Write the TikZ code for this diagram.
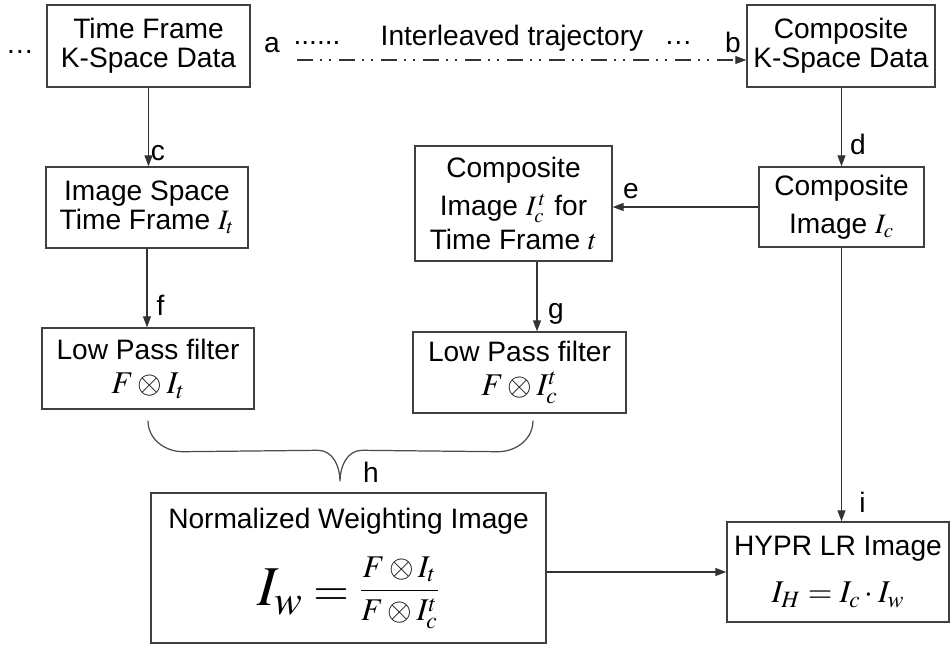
\documentclass[tikz,border=0pt]{standalone}
\usepackage{amsmath}
\usepackage{mathptmx}
\usepackage[no-math]{fontspec}
\setmainfont{Liberation Sans}
\usetikzlibrary{arrows.meta,calc}
\newcommand{\fml}{\fontsize{18}{18}\selectfont}

\begin{document}
\begin{tikzpicture}[
    font=\fontsize{16}{16.5}\selectfont,
    blk/.style={draw=black!75, line width=0.8pt, align=center, inner sep=1pt},
    lbl/.style={inner sep=0pt, anchor=base},
    arrow/.style={-{Triangle[length=2.2mm,width=1.6mm]}, draw=black!80, line width=0.7pt},
    traj/.style={arrow, dash pattern=on 0.32cm off 0.14cm on 0.04cm off 0.14cm on 0.04cm off 0.16cm},
    brace/.style={draw=black!70, line width=0.7pt}
]
\useasboundingbox (0,0) rectangle (19.02,-12.9);

% boxes
\node[blk, minimum width=4.06cm, minimum height=1.64cm] (tf) at (2.97,-0.92) {Time Frame\\K-Space Data};
\node[blk, minimum width=3.76cm, minimum height=1.64cm] (ck) at (16.82,-0.92) {Composite\\K-Space Data};
\node[blk, minimum width=4.04cm, minimum height=1.62cm] (is) at (2.94,-4.15) {Image Space\\Time Frame $I_t$};
\node[blk, minimum width=3.94cm, minimum height=2.30cm] (ci) at (10.27,-4.07) {Composite\\[5pt]Image $I_c^{\,t}$ for\\[3pt]Time Frame $t$};
\node[blk, minimum width=3.30cm, minimum height=1.60cm] (cim) at (16.83,-4.14) {Composite\\[5pt]Image $I_c$};
\node[blk, minimum width=4.24cm, minimum height=1.62cm] (lp1) at (2.96,-7.37) {Low Pass filter\\[3pt]{\fml$F\otimes I_t$}};
\node[blk, minimum width=4.26cm, minimum height=1.62cm] (lp2) at (10.39,-7.45) {Low Pass filter\\[3pt]{\fml$F\otimes I_c^t$}};
\node[blk, minimum width=7.90cm, minimum height=3.00cm] (nw) at (6.97,-11.36)
    {Normalized Weighting Image\\[12pt]{\fontsize{32}{32}\selectfont$I_w$}{\fontsize{26}{26}\selectfont$\;=\;$}\raisebox{4pt}{\fml$\dfrac{F\otimes I_t}{F\otimes I_c^t}$}};
\node[blk, minimum width=4.44cm, minimum height=2.00cm] (hy) at (16.76,-11.44) {HYPR LR Image\\[10pt]{\fml$I_H=I_c\cdot I_w$}};

% top line texts
\coordinate (trs) at (5.94,-1.20);
\node[lbl] (ldots) at (0.40,-1.06) {\ldots};
\node[lbl] (la) at (5.44,-1.04) {a};
\node[lbl] (tdots) at (6.34,-0.88) {......};
\node[lbl] (tr) at (10.24,-0.90) {Interleaved trajectory};
\node[lbl] (rdots) at (13.57,-0.88) {\ldots};
\node[lbl] (lb) at (14.66,-1.04) {b};

% letters
\node[lbl] (lc) at (3.16,-3.20) {c};
\node[lbl] (ld) at (17.16,-3.08) {d};
\node[lbl] (le) at (12.62,-3.96) {e};
\node[lbl] (lf) at (3.21,-6.30) {f};
\node[lbl] (lg) at (11.12,-6.36) {g};
\node[lbl] (lh) at (7.42,-9.64) {h};
\node[lbl] (li) at (17.25,-10.24) {i};

% connectors
\draw[traj] (trs) -- (trs -| ck.west);
\draw[arrow] (tf.south) -- (tf.south |- is.north);
\draw[arrow] (cim.north |- ck.south) -- (cim.north);
\draw[arrow] (cim.west) -- (cim.west -| ci.east);
\draw[arrow] (is.south) -- (is.south |- lp1.north);
\draw[arrow] ([xshift=0.47cm]ci.south) -- ([xshift=0.47cm]ci.south |- lp2.north);
\draw[arrow] (cim.south) -- (cim.south |- hy.north);
\draw[arrow] (nw.east |- hy.west) -- (hy.west);

% brace
\coordinate (bl) at ($(lp1.south)+(0,-0.22)$);
\coordinate (br) at ($(lp2.south)+(0.27,-0.14)$);
\coordinate (bt) at ($(nw.north)+(-0.17,0.22)$);
\draw[brace] (bl) to[out=-90,in=180] ($(bl)+(0.70,-0.62)$) -- ($(bt)+(-0.44,0.62)$)
    to[out=0,in=90] (bt) to[out=90,in=180] ($(bt)+(0.44,0.62)$) -- ($(br)+(-0.70,-0.62)$)
    to[out=0,in=-90] (br);
\end{tikzpicture}
\end{document}
